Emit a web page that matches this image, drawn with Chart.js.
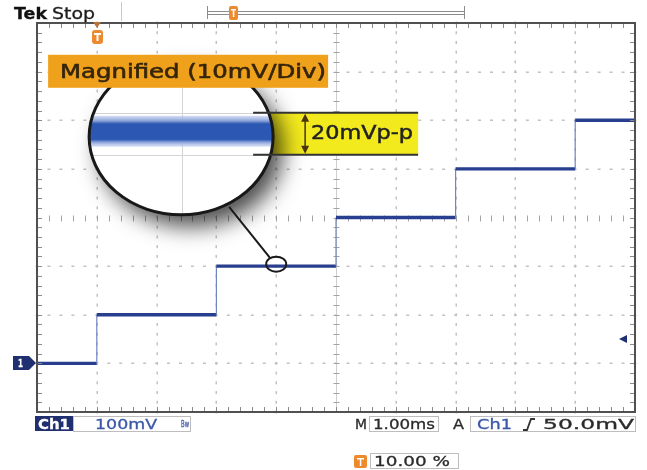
<!DOCTYPE html>
<html>
<head>
<meta charset="utf-8">
<script src="https://cdn.jsdelivr.net/npm/chart.js@4"></script>
<style>
  html, body { margin: 0; padding: 0; background: #fff; }
  #wrap { position: relative; width: 647px; height: 470px; overflow: hidden; }
  #scope { position: absolute; left: 0; top: 0; }
  .lbl { position: absolute; white-space: nowrap; line-height: 1; transform-origin: 0 0;
         font-family: "DejaVu Sans", sans-serif; color: #2b2b2b; -webkit-text-stroke: 0.3px currentColor; }
</style>
</head>
<body>
<div id="wrap"><canvas id="scope" width="647" height="470"></canvas></div>
<script>
"use strict";

// staircase: 1 ms/div, 100 mV/div
const stepTimes = [0, 1, 3, 5, 7, 9, 10];          // ms, edges of each level
const stepLevels = [0, 100, 200, 300, 400, 500];   // mV
const timeRange = [0, 10];
const voltRange = [-100, 700];
const triggerLevel = 50;   // mV
const triggerPos = 1;      // ms (10.00 %)
const zoomSpot = { x: 4.0, y: 200 };   // circled spot on the trace
const lensAt = { x: 2.41, y: 466 };    // where the magnifier sits

const tracePoints = [];
stepLevels.forEach((lv, i) => {
  tracePoints.push({ x: stepTimes[i], y: lv }, { x: stepTimes[i + 1], y: lv });
});

const wrap = document.getElementById("wrap");

// place a text so that its ink spans the given width (the scope font is wide)
function label(text, left, capTop, width, size, style = {}) {
  const el = document.createElement("div");
  el.className = "lbl";
  el.textContent = text;
  el.style.fontSize = size + "px";
  el.style.left = left + "px";
  el.style.top = (capTop - 0.117 * size) + "px";
  Object.assign(el.style, style);
  wrap.appendChild(el);
  const w = el.getBoundingClientRect().width;
  if (width) el.style.transform = `scaleX(${(width / w).toFixed(3)})`;
  return el;
}

const graticule = {
  id: "graticule",
  beforeDatasetsDraw(chart) {
    const { ctx, chartArea: a, scales: { x, y } } = chart;
    ctx.save();
    // dotted division lines
    ctx.fillStyle = "#c2c2c2";
    for (let t = 1; t < 10; t++) {
      if (t === 5) continue;
      const px = Math.round(x.getPixelForValue(t));
      for (let k = 0; k <= 40; k++) {
        const py = y.getPixelForValue(-100 + k * 20);
        ctx.fillRect(px - 0.5, py - 1.5, 1.5, 3);
      }
    }
    for (let v = 0; v <= 600; v += 100) {
      if (v === 300) continue;
      const py = Math.round(y.getPixelForValue(v));
      for (let k = 0; k <= 50; k++) {
        const px = x.getPixelForValue(k * 0.2);
        ctx.fillRect(px - 1.5, py - 0.5, 3, 1.5);
      }
    }
    // centre cross with ticks
    const cx = Math.round(x.getPixelForValue(5)) + 0.5;
    const cy = Math.round(y.getPixelForValue(300)) + 0.5;
    ctx.strokeStyle = "#cfcfcf";
    ctx.lineWidth = 1;
    ctx.beginPath();
    ctx.moveTo(cx, a.top); ctx.lineTo(cx, a.bottom);
    ctx.stroke();
    ctx.strokeStyle = "#a3a3a3";
    ctx.beginPath();
    for (let k = 0; k <= 40; k++) {
      const py = Math.round(y.getPixelForValue(-100 + k * 20)) + 0.5;
      ctx.moveTo(cx - 3, py); ctx.lineTo(cx + 3, py);
    }
    for (let k = 0; k <= 50; k++) {
      const px = Math.round(x.getPixelForValue(k * 0.2)) + 0.5;
      ctx.moveTo(px, cy - 3); ctx.lineTo(px, cy + 3);
    }
    ctx.stroke();
    ctx.restore();
  },
  afterDatasetsDraw(chart) {
    const { ctx, chartArea: a, scales: { x, y } } = chart;
    ctx.save();
    // frame with inward ticks
    ctx.strokeStyle = "#8a8a8a";
    ctx.lineWidth = 1;
    ctx.beginPath();
    for (let k = 1; k < 50; k++) {
      const px = Math.round(x.getPixelForValue(k * 0.2)) + 0.5;
      ctx.moveTo(px, a.top); ctx.lineTo(px, a.top + 5);
      ctx.moveTo(px, a.bottom); ctx.lineTo(px, a.bottom - 5);
    }
    for (let k = 1; k < 40; k++) {
      const py = Math.round(y.getPixelForValue(-100 + k * 20)) + 0.5;
      ctx.moveTo(a.left, py); ctx.lineTo(a.left + 5, py);
      ctx.moveTo(a.right, py); ctx.lineTo(a.right - 5, py);
    }
    ctx.stroke();
    ctx.strokeStyle = "#505050";
    ctx.lineWidth = 2;
    ctx.strokeRect(a.left, a.top, a.right - a.left, a.bottom - a.top);

    // ground marker "1"
    const gy = Math.round(y.getPixelForValue(0));
    ctx.fillStyle = "#1f2f6f";
    ctx.beginPath();
    ctx.moveTo(13, gy - 7); ctx.lineTo(29, gy - 7); ctx.lineTo(a.left - 1, gy);
    ctx.lineTo(29, gy + 7); ctx.lineTo(13, gy + 7); ctx.closePath();
    ctx.fill();

    // trigger level arrow
    const ty = Math.round(y.getPixelForValue(triggerLevel));
    ctx.beginPath();
    ctx.moveTo(619, ty); ctx.lineTo(627, ty - 4); ctx.lineTo(627, ty + 4); ctx.closePath();
    ctx.fill();

    // trigger position marker on top edge
    const tp = Math.round(x.getPixelForValue(triggerPos));
    ctx.fillStyle = "#b8743a";
    ctx.beginPath();
    ctx.moveTo(tp - 4, a.top - 1); ctx.lineTo(tp + 4, a.top - 1); ctx.lineTo(tp, a.top + 5); ctx.closePath();
    ctx.fill();
    ctx.fillStyle = "#ee8a2e";
    ctx.beginPath(); ctx.roundRect(tp - 5, 30, 11, 14, 3); ctx.fill();
    ctx.fillStyle = "#fff";
    ctx.fillRect(tp - 3, 33, 7, 2); ctx.fillRect(tp - 0.5, 33, 2, 8);

    // magnifier
    const cx = x.getPixelForValue(lensAt.x);
    const cy = y.getPixelForValue(lensAt.y);
    const rx = 92, ry = 78;
    ctx.fillStyle = "#f3ea1e";
    ctx.fillRect(cx + 78, cy - 24, 159, 42);
    ctx.save();
    ctx.shadowColor = "rgba(0,0,0,0.7)";
    ctx.shadowBlur = 22;
    ctx.shadowOffsetX = 10;
    ctx.shadowOffsetY = 12;
    ctx.fillStyle = "#fff";
    ctx.beginPath(); ctx.ellipse(cx, cy, rx, ry, 0, 0, Math.PI * 2); ctx.fill();
    ctx.restore();
    ctx.save();
    ctx.beginPath(); ctx.ellipse(cx, cy, rx, ry, 0, 0, Math.PI * 2); ctx.clip();
    ctx.strokeStyle = "#d4d4d4";
    ctx.lineWidth = 1;
    ctx.beginPath();
    ctx.moveTo(Math.round(cx) + 1.5, cy - ry); ctx.lineTo(Math.round(cx) + 1.5, cy + ry);
    ctx.moveTo(cx - rx, Math.round(cy) - 23.5); ctx.lineTo(cx + rx, Math.round(cy) - 23.5);
    ctx.moveTo(cx - rx, Math.round(cy) + 18.5); ctx.lineTo(cx + rx, Math.round(cy) + 18.5);
    ctx.stroke();
    const band = ctx.createLinearGradient(0, cy - 21, 0, cy + 10);
    band.addColorStop(0, "rgba(175,192,232,0.55)");
    band.addColorStop(0.16, "#8da4da");
    band.addColorStop(0.26, "#2c58b4");
    band.addColorStop(0.76, "#2c58b4");
    band.addColorStop(0.86, "#8fa6dc");
    band.addColorStop(1, "rgba(185,200,236,0.5)");
    ctx.fillStyle = band;
    ctx.fillRect(cx - rx, cy - 21, rx * 2, 31);
    ctx.restore();
    ctx.strokeStyle = "#181818";
    ctx.lineWidth = 3;
    ctx.beginPath(); ctx.ellipse(cx, cy, rx, ry, 0, 0, Math.PI * 2); ctx.stroke();

    // 20mVp-p bracket and arrow
    ctx.strokeStyle = "#333";
    ctx.lineWidth = 2;
    ctx.beginPath();
    ctx.moveTo(cx + 72, cy - 24); ctx.lineTo(cx + 237, cy - 24);
    ctx.moveTo(cx + 72, cy + 18); ctx.lineTo(cx + 237, cy + 18);
    ctx.stroke();
    const ax = cx + 124;
    ctx.strokeStyle = "#4a3410";
    ctx.lineWidth = 1.5;
    ctx.beginPath(); ctx.moveTo(ax, cy - 17); ctx.lineTo(ax, cy + 11); ctx.stroke();
    ctx.fillStyle = "#4a3410";
    ctx.beginPath();
    ctx.moveTo(ax, cy - 23); ctx.lineTo(ax - 4, cy - 15); ctx.lineTo(ax + 4, cy - 15); ctx.closePath();
    ctx.moveTo(ax, cy + 17); ctx.lineTo(ax - 4, cy + 9); ctx.lineTo(ax + 4, cy + 9); ctx.closePath();
    ctx.fill();

    // orange caption box
    ctx.fillStyle = "#f0a11c";
    ctx.fillRect(cx - 133, cy - 82, 280, 33);

    // pointer to the circled spot
    const sx = x.getPixelForValue(zoomSpot.x);
    const sy = y.getPixelForValue(zoomSpot.y) - 2;
    ctx.strokeStyle = "#1a1a1a";
    ctx.lineWidth = 2;
    ctx.beginPath(); ctx.moveTo(cx + 48, cy + 70); ctx.lineTo(sx - 6, sy - 6); ctx.stroke();
    ctx.beginPath(); ctx.ellipse(sx, sy, 10, 7.5, 0, 0, Math.PI * 2); ctx.stroke();

    // top status line
    ctx.strokeStyle = "#c9c9c9";
    ctx.lineWidth = 1;
    ctx.beginPath(); ctx.moveTo(121.5, 2); ctx.lineTo(121.5, 21); ctx.stroke();
    ctx.strokeStyle = "#8c8c8c";
    ctx.beginPath();
    ctx.moveTo(207.5, 6); ctx.lineTo(207.5, 19);
    ctx.moveTo(464.5, 6); ctx.lineTo(464.5, 19);
    ctx.moveTo(207.5, 11.5); ctx.lineTo(464.5, 11.5);
    ctx.moveTo(207.5, 14.5); ctx.lineTo(464.5, 14.5);
    ctx.stroke();
    ctx.fillStyle = "#ee8a2e";
    ctx.beginPath(); ctx.roundRect(229, 6, 9, 14, 2); ctx.fill();
    ctx.fillStyle = "#fff";
    ctx.fillRect(231, 9, 5, 1.5); ctx.fillRect(232.8, 9, 1.5, 8);

    // bottom readout boxes
    ctx.fillStyle = "#1f2f6f";
    ctx.fillRect(35, 416, 38, 15);
    ctx.strokeStyle = "#bdbdbd";
    ctx.lineWidth = 1;
    ctx.strokeRect(73.5, 416.5, 117, 15);
    ctx.strokeRect(369.5, 416.5, 69, 15);
    ctx.strokeRect(470.5, 416.5, 165, 15);
    ctx.strokeRect(370.5, 453.5, 88, 15);
    // rising edge icon
    ctx.strokeStyle = "#333";
    ctx.lineWidth = 1.8;
    ctx.beginPath();
    ctx.moveTo(523, 430); ctx.lineTo(527, 430); ctx.lineTo(531, 419); ctx.lineTo(535, 419);
    ctx.stroke();
    // trigger position icon next to 10.00 %
    ctx.fillStyle = "#ee8a2e";
    ctx.beginPath(); ctx.roundRect(354, 455, 13, 13, 2); ctx.fill();
    ctx.fillStyle = "#fff";
    ctx.fillRect(357, 458, 7, 1.5); ctx.fillRect(359.8, 458, 1.5, 8);
    ctx.restore();
  }
};

const chart = new Chart(document.getElementById("scope"), {
  type: "line",
  data: {
    datasets: [{
      data: tracePoints,
      borderColor: "#273f8e",
      borderWidth: 3.4,
      borderCapStyle: "butt",
      pointRadius: 0,
      tension: 0,
      segment: {
        borderWidth: (c) => (c.p0.parsed.x === c.p1.parsed.x ? 1.2 : 3.4),
        borderColor: (c) => (c.p0.parsed.x === c.p1.parsed.x ? "#7085c2" : undefined),
      },
    }],
  },
  options: {
    responsive: false,
    animation: false,
    events: [],
    layout: { padding: { left: 37, right: 12, top: 23, bottom: 58 } },
    plugins: { legend: { display: false }, tooltip: { enabled: false } },
    scales: {
      x: { type: "linear", min: timeRange[0], max: timeRange[1], display: false },
      y: { type: "linear", min: voltRange[0], max: voltRange[1], display: false },
    },
  },
  plugins: [graticule],
});

// texts
const gy = chart.scales.y.getPixelForValue(0);
label("1", 18, gy - 4, 5, 11, { color: "#fff", fontWeight: "bold" });
label("Tek", 14, 8, 33, 16, { fontWeight: "bold", color: "#111" });
label("Stop", 52, 8, 43, 16, { color: "#1c1c1c" });
label("Magnified (10mV/Div)", 60, 64, 266, 19, { color: "#35250b", webkitTextStroke: "0.6px #35250b" });
label("20mVp-p", 311, 124, 102, 20, { color: "#222", webkitTextStroke: "0.5px #222" });
label("Ch1", 38, 419, 32, 14, { color: "#fff", fontWeight: "bold" });
label("100mV", 95, 419, 62, 14, { color: "#3a58a8" });
label("Bw", 181, 421, 8, 9, { color: "#3a58a8" });
label("M", 355, 419, 12, 14);
label("1.00ms", 373, 419, 62, 14);
label("A", 453, 419, 11, 14);
label("Ch1", 477, 419, 35, 14, { color: "#3a58a8" });
label("50.0mV", 543, 419, 91, 14);
label("10.00 %", 374, 456, 76, 14);
</script>
</body>
</html>
